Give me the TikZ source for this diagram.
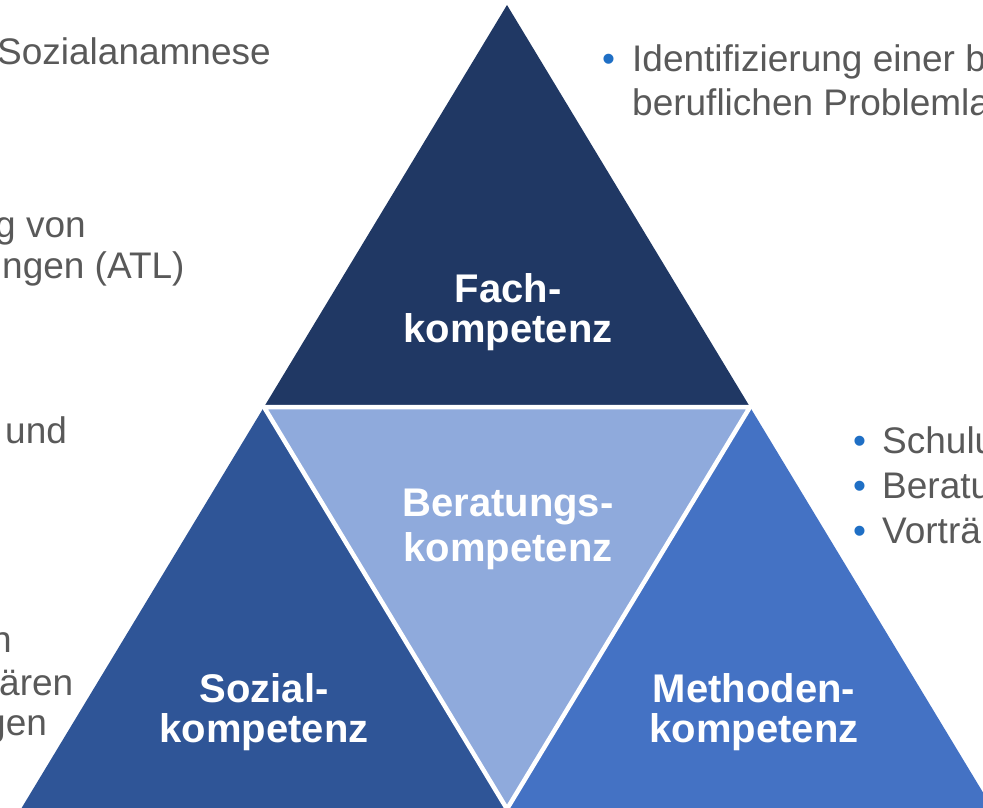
\documentclass[tikz,border=0pt]{standalone}
\usepackage{fontspec}
\setmainfont{Liberation Sans}
\definecolor{fachc}{HTML}{203864}
\definecolor{sozc}{HTML}{2F5597}
\definecolor{methc}{HTML}{4472C4}
\definecolor{berc}{HTML}{8FAADC}
\definecolor{graytxt}{HTML}{595959}
\definecolor{bulc}{HTML}{1F6FC5}
\begin{document}
\begin{tikzpicture}[x=1pt,y=-1pt,
  gtxt/.style={anchor=base west, inner sep=0pt, text=graytxt, font=\fontsize{37}{43}\selectfont},
  bul/.style={anchor=base west, inner sep=0pt, text=bulc, font=\fontsize{37}{43}\selectfont},
  lbl/.style={align=center, text=white, inner sep=0pt, font=\fontsize{40}{40}\selectfont\bfseries}]
\useasboundingbox (0,0) rectangle (983,808);
\clip (0,0) rectangle (983,808);
% geometry
\coordinate (A) at (507,5);
\coordinate (L) at (21,809);
\coordinate (R) at (993,809);
\coordinate (ML) at (264,407);
\coordinate (MR) at (750,407);
\coordinate (MB) at (507,809);
\fill[fachc] (A) -- (ML) -- (MR) -- cycle;
\fill[sozc] (ML) -- (L) -- (MB) -- cycle;
\fill[methc] (MR) -- (MB) -- (R) -- cycle;
\fill[berc] (ML) -- (MR) -- (MB) -- cycle;
\draw[white, line width=4.5pt, line join=miter] (ML) -- (MR) -- (MB) -- cycle;
% labels
\node[lbl] (fach) at (508,312) {Fach-\\kompetenz};
\node[lbl, font=\fontsize{40}{45}\selectfont\bfseries] (berat) at (508,529) {Beratungs-\\kompetenz};
\node[lbl] (sozial) at (264,712) {Sozial-\\kompetenz};
\node[lbl] (method) at (754,712) {Methoden-\\kompetenz};
% left texts (cut off)
\node[gtxt] (t1) at (-3,65) {Sozialanamnese};
\node[gtxt] (t2) at (-5,237) {g von};
\node[gtxt] (t3) at (2,278) {ngen (ATL)};
\node[gtxt] (t4) at (5,443) {und};
\node[gtxt] (t5) at (-9,652) {n};
\node[gtxt] (t6) at (-1,695) {ären};
\node[gtxt] (t7) at (-15,735) {gen};
% top right
\node[bul] (b1) at (602,72) {•};
\node[gtxt] (r1) at (632,72) {Identifizierung einer b};
\node[gtxt] (r2) at (632,115) {beruflichen Problemla};
% middle right
\node[bul] (b2) at (853,453) {•};
\node[bul] (b3) at (853,498) {•};
\node[bul] (b4) at (853,543) {•};
\node[gtxt] (s1) at (882,453) {Schulu};
\node[gtxt] (s2) at (882,498) {Beratu};
\node[gtxt] (s3) at (882,543) {Vorträ};
\end{tikzpicture}
\end{document}
